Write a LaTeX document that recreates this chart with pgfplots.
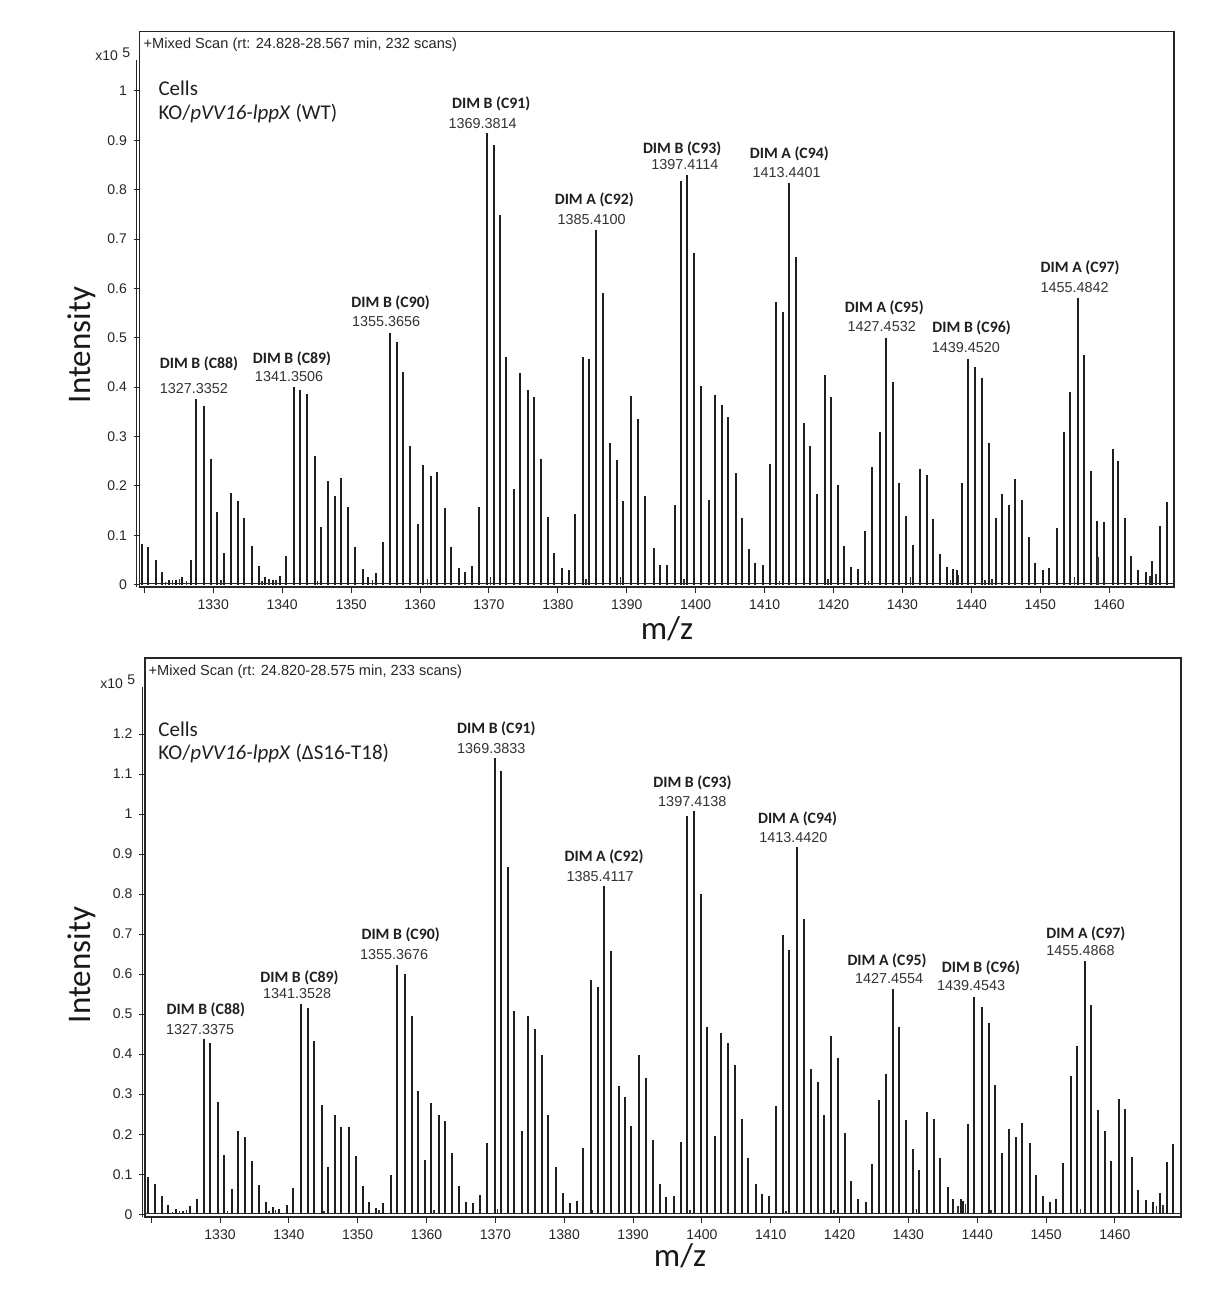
\documentclass[border=0pt]{standalone}
\usepackage{pgfplots}
\pgfplotsset{compat=1.18}
\usepackage{fontspec}
\setmainfont{Liberation Sans}
\newfontfamily\carlito{Carlito}
\begin{document}
\begin{tikzpicture}
\useasboundingbox (0,0) rectangle (606.5pt,-654pt);
\tikzset{
  dimlab/.style={anchor=west, inner sep=0pt, font=\carlito\bfseries\fontsize{7.9}{9}\selectfont, text=black!88},
  numlab/.style={anchor=west, inner sep=0pt, font=\fontsize{7.2}{8}\selectfont, text=black!80},
  biglab/.style={font=\carlito\fontsize{16.5}{18}\selectfont, text=black!90},
  celllab/.style={anchor=west, inner sep=0pt, font=\carlito\fontsize{10.5}{12}\selectfont, text=black!88},
}
\pgfplotsset{
  ms/.style={
    scale only axis, anchor=north west, clip=false,
    axis line style={line width=0.55pt, black!85},
    tick style={line width=0.5pt, black!85},
    tick align=outside, xtick pos=bottom, ytick pos=left,
    major tick length=2.8pt,
    xtick={1320,1330,1340,1350,1360,1370,1380,1390,1400,1410,1420,1430,1440,1450,1460},
    xticklabels={,1330,1340,1350,1360,1370,1380,1390,1400,1410,1420,1430,1440,1450,1460},
    tick label style={font=\fontsize{7}{8}\selectfont, text=black!85},
  },
  pk/.style={ycomb, no marks, line width=1pt, black!88},
  nz/.style={ycomb, no marks, line width=0.7pt, black!80},
}

% ================= TOP =================
\begin{axis}[ms, at={(69.75pt,-15.85pt)}, width=517.25pt, height=277.65pt,
  xmin=1319.3, xmax=1469.4, ymin=-0.005, ymax=1.12,
  ytick={0,0.1,0.2,0.3,0.4,0.5,0.6,0.7,0.8,0.9,1},
  yticklabels={0,0.1,0.2,0.3,0.4,0.5,0.6,0.7,0.8,0.9,1}]
\addplot[black!85, line width=0.9pt] coordinates {(1319.3,0.002) (1469.4,0.002)};
\addplot[pk] table {
1319.7 0.082
1320.6 0.076
1321.7 0.049
1322.5 0.025
1323.6 0.010
1324.6 0.010
1325.5 0.016
1326.7 0.049
1327.5 0.376
1328.6 0.361
1329.7 0.255
1330.6 0.147
1331.6 0.064
1332.6 0.186
1333.6 0.170
1334.5 0.134
1335.6 0.079
1336.7 0.037
1337.5 0.016
1338.6 0.010
1339.7 0.018
1340.6 0.058
1341.7 0.400
1342.6 0.395
1343.6 0.386
1344.7 0.261
1345.6 0.116
1346.7 0.209
1347.6 0.179
1348.6 0.215
1349.5 0.158
1350.6 0.076
1351.7 0.032
1352.5 0.016
1353.6 0.024
1354.7 0.086
1355.6 0.510
1356.7 0.492
1357.6 0.431
1358.6 0.280
1359.7 0.122
1360.5 0.243
1361.6 0.219
1362.5 0.228
1363.6 0.155
1364.5 0.076
1365.6 0.034
1366.6 0.025
1367.5 0.037
1368.6 0.158
1369.7 0.915
1370.7 0.890
1371.6 0.748
1372.5 0.461
1373.6 0.194
1374.5 0.428
1375.6 0.395
1376.6 0.380
1377.5 0.255
1378.6 0.136
1379.5 0.064
1380.6 0.034
1381.6 0.030
1382.5 0.143
1383.6 0.461
1384.5 0.457
1385.5 0.718
1386.6 0.590
1387.5 0.286
1388.6 0.252
1389.5 0.170
1390.6 0.382
1391.6 0.336
1392.7 0.179
1393.9 0.074
1394.8 0.039
1395.8 0.039
1397.0 0.162
1397.9 0.818
1398.8 0.829
1399.8 0.672
1400.8 0.403
1401.9 0.172
1402.8 0.385
1403.8 0.364
1404.7 0.340
1405.8 0.226
1406.7 0.135
1407.7 0.072
1408.6 0.044
1409.7 0.039
1410.8 0.244
1411.7 0.573
1412.7 0.553
1413.6 0.814
1414.6 0.664
1415.7 0.328
1416.6 0.281
1417.6 0.184
1418.7 0.425
1419.6 0.379
1420.6 0.202
1421.5 0.078
1422.6 0.036
1423.6 0.031
1424.6 0.108
1425.6 0.238
1426.7 0.309
1427.6 0.499
1428.6 0.411
1429.5 0.205
1430.5 0.138
1431.5 0.081
1432.6 0.235
1433.6 0.222
1434.5 0.132
1435.5 0.062
1436.4 0.036
1437.4 0.032
1437.9 0.029
1438.6 0.205
1439.5 0.456
1440.5 0.440
1441.6 0.418
1442.5 0.286
1443.5 0.135
1444.4 0.184
1445.5 0.162
1446.4 0.213
1447.4 0.171
1448.3 0.096
1449.3 0.044
1450.4 0.030
1451.2 0.034
1452.4 0.114
1453.5 0.309
1454.3 0.391
1455.5 0.580
1456.3 0.466
1457.4 0.231
1458.2 0.128
1459.3 0.126
1460.5 0.274
1461.3 0.250
1462.3 0.135
1463.2 0.057
1464.2 0.030
1465.4 0.026
1466.2 0.048
1467.3 0.119
1468.4 0.168
};
\addplot[nz] table {
1323.1 0.006
1324.1 0.009
1325.1 0.012
1326.1 0.008
1331.1 0.010
1337.1 0.008
1338.1 0.012
1339.1 0.009
1345.1 0.007
1353.1 0.010
1361.1 0.012
1370.2 0.015
1384.1 0.012
1389.1 0.015
1398.3 0.012
1412.2 0.008
1419.2 0.012
1425.1 0.008
1431.2 0.015
1437.0 0.010
1438.1 0.020
1442.0 0.010
1443.0 0.012
1455.0 0.015
1458.4 0.055
1465.9 0.018
1466.8 0.022
};
\draw[line width=0.55pt, black!85] ([xshift=-1.4pt]axis cs:1319.3,-0.005) -- ([xshift=-1.4pt]axis cs:1319.3,1.062);
\node[celllab] at (axis cs:1322.0,1.006) {Cells};
\node[celllab] at (axis cs:1322.0,0.954) {KO/\textit{pVV16-lppX} (WT)};
\node[dimlab] at (axis cs:1322.2,0.447) {DIM B (C88)};
\node[numlab] at (axis cs:1322.2,0.397) {1327.3352};
\node[dimlab] at (axis cs:1335.7,0.457) {DIM B (C89)};
\node[numlab] at (axis cs:1336.0,0.421) {1341.3506};
\node[dimlab] at (axis cs:1350.0,0.571) {DIM B (C90)};
\node[numlab] at (axis cs:1350.1,0.532) {1355.3656};
\node[dimlab] at (axis cs:1364.6,0.973) {DIM B (C91)};
\node[numlab] at (axis cs:1364.1,0.934) {1369.3814};
\node[dimlab] at (axis cs:1379.5,0.779) {DIM A (C92)};
\node[numlab] at (axis cs:1379.9,0.739) {1385.4100};
\node[dimlab] at (axis cs:1392.3,0.883) {DIM B (C93)};
\node[numlab] at (axis cs:1393.5,0.850) {1397.4114};
\node[dimlab] at (axis cs:1407.8,0.873) {DIM A (C94)};
\node[numlab] at (axis cs:1408.2,0.834) {1413.4401};
\node[dimlab] at (axis cs:1421.6,0.560) {DIM A (C95)};
\node[numlab] at (axis cs:1422.0,0.522) {1427.4532};
\node[dimlab] at (axis cs:1434.3,0.520) {DIM B (C96)};
\node[numlab] at (axis cs:1434.2,0.480) {1439.4520};
\node[dimlab] at (axis cs:1450.0,0.641) {DIM A (C97)};
\node[numlab] at (axis cs:1450.0,0.601) {1455.4842};
\end{axis}

% ================= BOTTOM =================
\begin{axis}[ms, at={(72.5pt,-329pt)}, width=518pt, height=279.5pt,
  xmin=1319.1, xmax=1469.6, ymin=-0.007, ymax=1.39,
  ytick={0,0.1,0.2,0.3,0.4,0.5,0.6,0.7,0.8,0.9,1,1.1,1.2},
  yticklabels={0,0.1,0.2,0.3,0.4,0.5,0.6,0.7,0.8,0.9,1,1.1,1.2}]
\addplot[black!85, line width=0.9pt] coordinates {(1319.1,0.002) (1469.6,0.002)};
\addplot[pk] table {
1319.6 0.092
1320.5 0.075
1321.6 0.046
1322.5 0.023
1323.6 0.012
1324.6 0.008
1325.6 0.020
1326.7 0.038
1327.7 0.437
1328.6 0.429
1329.7 0.280
1330.6 0.148
1331.7 0.064
1332.6 0.207
1333.6 0.192
1334.7 0.132
1335.6 0.073
1336.7 0.031
1337.7 0.017
1338.6 0.012
1339.7 0.023
1340.6 0.065
1341.7 0.526
1342.8 0.515
1343.7 0.433
1344.8 0.272
1345.7 0.117
1346.7 0.249
1347.6 0.217
1348.7 0.217
1349.8 0.146
1350.7 0.071
1351.7 0.031
1352.7 0.015
1353.7 0.029
1354.8 0.098
1355.7 0.624
1356.8 0.601
1357.9 0.495
1358.7 0.307
1359.8 0.135
1360.7 0.277
1361.8 0.248
1362.7 0.232
1363.7 0.153
1364.7 0.071
1365.7 0.031
1366.8 0.027
1367.7 0.048
1368.8 0.177
1369.9 1.140
1370.8 1.108
1371.8 0.868
1372.7 0.508
1373.8 0.207
1374.7 0.495
1375.8 0.462
1376.8 0.398
1377.7 0.248
1378.8 0.119
1379.8 0.052
1380.8 0.029
1381.8 0.033
1382.8 0.165
1383.9 0.585
1384.9 0.568
1385.8 0.820
1386.8 0.657
1387.9 0.320
1388.9 0.292
1389.7 0.221
1390.8 0.398
1391.9 0.341
1392.9 0.185
1393.9 0.075
1394.8 0.042
1395.9 0.046
1396.9 0.181
1397.9 0.996
1398.9 1.008
1399.9 0.800
1400.8 0.469
1401.9 0.196
1402.8 0.454
1403.8 0.428
1404.8 0.373
1405.8 0.238
1406.7 0.140
1407.8 0.075
1408.8 0.050
1409.7 0.046
1410.8 0.271
1411.8 0.698
1412.7 0.660
1413.8 0.917
1414.9 0.739
1415.8 0.364
1416.8 0.331
1417.7 0.248
1418.8 0.446
1419.7 0.390
1420.8 0.202
1421.6 0.083
1422.7 0.039
1423.8 0.031
1424.7 0.125
1425.7 0.286
1426.8 0.350
1427.7 0.563
1428.7 0.467
1429.6 0.235
1430.7 0.163
1431.6 0.110
1432.7 0.256
1433.7 0.238
1434.6 0.140
1435.7 0.068
1436.5 0.039
1437.6 0.039
1438.0 0.033
1438.7 0.225
1439.5 0.544
1440.7 0.519
1441.7 0.477
1442.6 0.323
1443.6 0.152
1444.6 0.214
1445.6 0.192
1446.5 0.229
1447.6 0.177
1448.5 0.098
1449.6 0.046
1450.6 0.031
1451.5 0.038
1452.5 0.128
1453.6 0.346
1454.5 0.421
1455.6 0.633
1456.5 0.523
1457.5 0.260
1458.6 0.208
1459.5 0.132
1460.6 0.289
1461.4 0.264
1462.5 0.143
1463.4 0.060
1464.5 0.035
1465.5 0.031
1466.5 0.053
1467.5 0.131
1468.5 0.176
};
\addplot[nz] table {
1323.1 0.006
1324.1 0.009
1325.1 0.010
1331.1 0.008
1337.1 0.008
1338.1 0.010
1345.1 0.007
1353.1 0.010
1361.1 0.010
1370.3 0.012
1384.1 0.010
1398.3 0.010
1412.2 0.008
1419.2 0.010
1431.2 0.012
1437.2 0.020
1438.3 0.025
1442.0 0.010
1455.0 0.012
1466.0 0.020
1467.0 0.024
};
\draw[line width=0.55pt, black!85] ([xshift=-1.4pt]axis cs:1319.1,-0.007) -- ([xshift=-1.4pt]axis cs:1319.1,1.318);
\node[celllab] at (axis cs:1321.0,1.2125) {Cells};
\node[celllab] at (axis cs:1321.0,1.152) {KO/\textit{pVV16-lppX} (ΔS16-T18)};
\node[dimlab] at (axis cs:1322.2,0.510) {DIM B (C88)};
\node[numlab] at (axis cs:1322.1,0.461) {1327.3375};
\node[dimlab] at (axis cs:1335.8,0.591) {DIM B (C89)};
\node[numlab] at (axis cs:1336.2,0.551) {1341.3528};
\node[dimlab] at (axis cs:1350.5,0.698) {DIM B (C90)};
\node[numlab] at (axis cs:1350.3,0.649) {1355.3676};
\node[dimlab] at (axis cs:1364.4,1.214) {DIM B (C91)};
\node[numlab] at (axis cs:1364.4,1.164) {1369.3833};
\node[dimlab] at (axis cs:1380.0,0.893) {DIM A (C92)};
\node[numlab] at (axis cs:1380.3,0.845) {1385.4117};
\node[dimlab] at (axis cs:1392.9,1.077) {DIM B (C93)};
\node[numlab] at (axis cs:1393.6,1.031) {1397.4138};
\node[dimlab] at (axis cs:1408.1,0.989) {DIM A (C94)};
\node[numlab] at (axis cs:1408.3,0.942) {1413.4420};
\node[dimlab] at (axis cs:1421.1,0.632) {DIM A (C95)};
\node[numlab] at (axis cs:1422.2,0.588) {1427.4554};
\node[dimlab] at (axis cs:1434.8,0.615) {DIM B (C96)};
\node[numlab] at (axis cs:1434.1,0.571) {1439.4543};
\node[dimlab] at (axis cs:1450.0,0.700) {DIM A (C97)};
\node[numlab] at (axis cs:1450.0,0.658) {1455.4868};
\end{axis}

% ================= outer texts =================
\node[anchor=west, inner sep=0pt, font=\fontsize{7.3}{8}\selectfont, text=black!85] at (71.65pt,-22.5pt) {+Mixed Scan (rt: 24.828-28.567 min, 232 scans)};
\node[anchor=west, inner sep=0pt, font=\fontsize{7.3}{8}\selectfont, text=black!85] at (74.15pt,-335.85pt) {+Mixed Scan (rt: 24.820-28.575 min, 233 scans)};
\node[anchor=west, inner sep=0pt, font=\fontsize{7}{8}\selectfont, text=black!85] at (47.5pt,-27.2pt) {x10\hspace{2.2pt}\raisebox{1.6pt}{5}};
\node[anchor=west, inner sep=0pt, font=\fontsize{7}{8}\selectfont, text=black!85] at (50pt,-340.9pt) {x10\hspace{2.2pt}\raisebox{1.6pt}{5}};
\node[biglab, rotate=90] at (41pt,-172.5pt) {Intensity};
\node[biglab, rotate=90] at (41pt,-482.5pt) {Intensity};
\node[biglab] at (333.5pt,-314.5pt) {m/z};
\node[biglab] at (340pt,-628pt) {m/z};
\end{tikzpicture}
\end{document}
